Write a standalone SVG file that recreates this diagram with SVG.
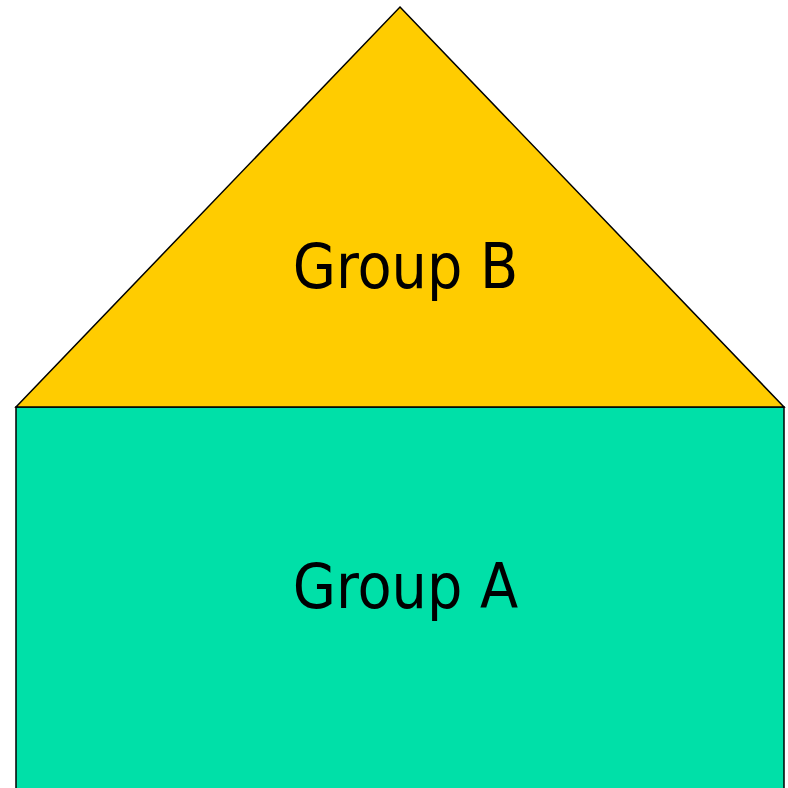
<svg xmlns="http://www.w3.org/2000/svg" width="788" height="788" viewBox="0 0 788 788">
<style>
.shape{stroke:#000;stroke-width:1.5}
.lbl{font-family:"DejaVu Sans Condensed","DejaVu Sans",sans-serif;font-stretch:condensed;font-size:62px;fill:#000;text-anchor:middle}
</style>
<rect width="788" height="788" fill="#fff"/>
<g id="groupA">
<rect class="shape" x="16" y="407" width="768" height="390" fill="#00E0A8"/>
<text class="lbl" x="405.5" y="608">Group A</text>
</g>
<g id="groupB">
<polygon class="shape" points="400,7 784,407 16,407" fill="#FFCC00"/>
<text class="lbl" x="405.5" y="288">Group B</text>
</g>
<g id="connectors"></g>
</svg>
